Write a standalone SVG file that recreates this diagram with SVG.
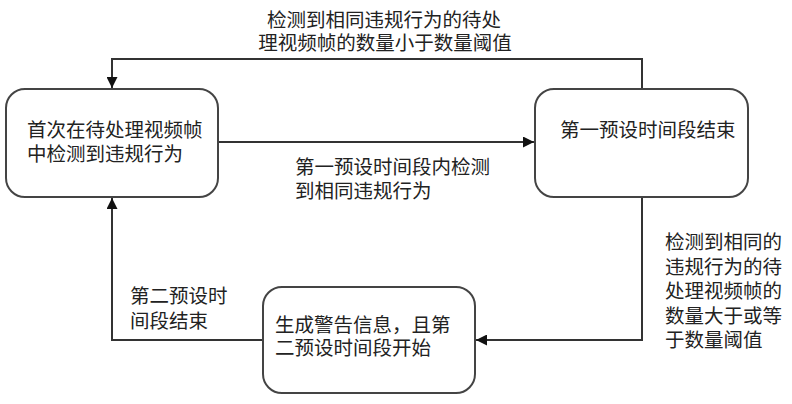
<svg xmlns="http://www.w3.org/2000/svg" width="792" height="404" viewBox="0 0 792 404">
<style>
.box{fill:#fff;stroke:#444;stroke-width:2}
.t{font-family:"Noto Sans CJK SC","Noto Sans",sans-serif;font-size:19.5px;fill:#222}
.c{fill:none;stroke:#333;stroke-width:2}
</style>
<defs>
<marker id="arr" viewBox="0 0 10 10" refX="10" refY="5" markerWidth="5.5" markerHeight="5.5" orient="auto" markerUnits="strokeWidth">
<path d="M0 0L10 5L0 10z" fill="#111"/>
</marker>
</defs>
<rect width="792" height="404" fill="#fff"/>
<g id="connectors">
<path class="c" d="M642 89V59H112V88" marker-end="url(#arr)"/>
<path class="c" d="M218 142H534" marker-end="url(#arr)"/>
<path class="c" d="M642 197V340H476" marker-end="url(#arr)"/>
<path class="c" d="M263 340H112V198" marker-end="url(#arr)"/>
</g>
<g id="labels">
<text class="t" x="384" y="27" text-anchor="middle">检测到相同违规行为的待处</text>
<text class="t" x="385" y="50" text-anchor="middle">理视频帧的数量小于数量阈值</text>
<text class="t" x="295" y="174">第一预设时间段内检测</text>
<text class="t" x="295" y="198">到相同违规行为</text>
<text class="t" x="665" y="249">检测到相同的</text>
<text class="t" x="665" y="273.5">违规行为的待</text>
<text class="t" x="665" y="298">处理视频帧的</text>
<text class="t" x="665" y="322.5">数量大于或等</text>
<text class="t" x="665" y="347">于数量阈值</text>
<text class="t" x="130" y="303">第二预设时</text>
<text class="t" x="130" y="328">间段结束</text>
</g>
<g id="node1">
<rect class="box" x="6" y="89" width="212" height="108" rx="19"/>
<text class="t" x="27" y="137">首次在待处理视频帧</text>
<text class="t" x="27" y="161">中检测到违规行为</text>
</g>
<g id="node2">
<rect class="box" x="535" y="89" width="213" height="108" rx="19"/>
<text class="t" x="560" y="137">第一预设时间段结束</text>
</g>
<g id="node3">
<rect class="box" x="263" y="287" width="212" height="106" rx="19"/>
<text class="t" x="275" y="332">生成警告信息，且第</text>
<text class="t" x="275" y="355">二预设时间段开始</text>
</g>
</svg>
